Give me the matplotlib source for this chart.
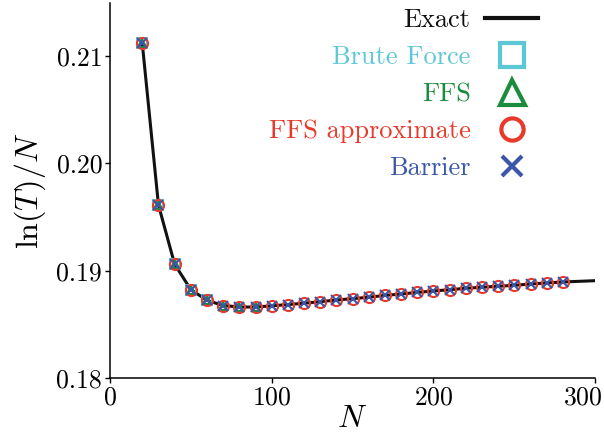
import matplotlib
matplotlib.use("Agg")
import matplotlib.pyplot as plt
from matplotlib.lines import Line2D
from matplotlib.ticker import FormatStrFormatter
from matplotlib.transforms import ScaledTranslation

plt.rcParams['font.family'] = 'serif'
plt.rcParams['font.serif'] = ['cmr10']
plt.rcParams['mathtext.fontset'] = 'cm'
plt.rcParams['axes.formatter.use_mathtext'] = True

# ---- data ----
N_exact = [20, 30, 40, 50, 60, 70, 80, 90, 100, 110, 120, 130, 140, 150, 160,
           170, 180, 190, 200, 210, 220, 230, 240, 250, 260, 270, 280, 290, 300]
y_exact = [0.21115, 0.19611, 0.19060, 0.18824, 0.18724, 0.18676, 0.18662,
           0.18662, 0.18673, 0.18685, 0.18697, 0.18712, 0.18727, 0.18740,
           0.18753, 0.18770, 0.18783, 0.18798, 0.18811, 0.18823, 0.18836,
           0.18846, 0.18855, 0.18864, 0.18876, 0.18886, 0.18895, 0.18901,
           0.18907]

N_pts = [20, 30, 40, 50, 60, 70, 80, 90, 100, 110, 120, 130, 140, 150, 160,
         170, 180, 190, 200, 210, 220, 230, 240, 250, 260, 270, 280]
y_pts = [0.21115, 0.19611, 0.19060, 0.18824, 0.18724, 0.18676, 0.18662,
         0.18662, 0.18673, 0.18685, 0.18697, 0.18712, 0.18727, 0.18740,
         0.18753, 0.18770, 0.18783, 0.18798, 0.18811, 0.18823, 0.18836,
         0.18846, 0.18855, 0.18864, 0.18876, 0.18886, 0.18895]

N_brute = [20, 30, 40, 50, 60]
y_brute = [0.21115, 0.19611, 0.19060, 0.18824, 0.18724]
N_ffs = [20, 30, 40, 50, 60, 70, 80, 90]
y_ffs = [0.21115, 0.19611, 0.19060, 0.18824, 0.18724, 0.18676, 0.18662, 0.18662]

labels = ["Exact", "Brute Force", "FFS", "FFS approximate", "Barrier"]
xticks = [0, 100, 200, 300]
yticks = [0.18, 0.19, 0.20, 0.21]

c_exact = "#111111"
c_brute = "#5cc8d6"
c_ffs = "#1a8c3c"
c_approx = "#e8392a"
c_barrier = "#3b56a8"

fig = plt.figure(figsize=(6.04, 4.37), dpi=100)
ax = fig.add_axes([0.182, 0.1346, 0.8035, 0.8585])

ax.plot(N_exact, y_exact, color=c_exact, lw=2.2, zorder=2)
ax.plot(N_brute, y_brute, ls='none', marker='s', ms=7.5, mfc='none',
        mec=c_brute, mew=1.5, zorder=3)
ax.plot(N_ffs, y_ffs, ls='none', marker='^', ms=6, mfc='none',
        mec=c_ffs, mew=1.5, zorder=4)
ax.plot(N_pts, y_pts, ls='none', marker='o', ms=8, mfc='none',
        mec=c_approx, mew=1.5, zorder=5)
ax.plot(N_pts, y_pts, ls='none', marker='x', ms=6.5,
        mec=c_barrier, mew=1.5, zorder=6)

ax.set_xlim(0, 300)
ax.set_ylim(0.18, 0.2149)
ax.set_xticks(xticks)
ax.set_yticks(yticks)
ax.yaxis.set_major_formatter(FormatStrFormatter('%.2f'))
for s in ['top', 'right']:
    ax.spines[s].set_visible(False)
for s in ['left', 'bottom']:
    ax.spines[s].set_linewidth(1.1)
ax.tick_params(direction='out', length=3.6, width=1.0, labelsize=18.5, pad=2)
ax.set_xlabel(r"$N$", fontsize=23, labelpad=-3)
ax.set_ylabel(r"$\ln(T)/N$", fontsize=23, labelpad=6)

# shift the last x tick label left so it stays inside the figure
fig.canvas.draw()
last = ax.get_xticklabels()[-1]
last.set_transform(last.get_transform() +
                   ScaledTranslation(-0.12, 0, fig.dpi_scale_trans))

handles = [
    Line2D([], [], color=c_exact, lw=3),
    Line2D([], [], ls='none', marker='s', ms=17, mfc='none', mec=c_brute, mew=3),
    Line2D([], [], ls='none', marker='^', ms=18, mfc='none', mec=c_ffs, mew=3),
    Line2D([], [], ls='none', marker='o', ms=16, mfc='none', mec=c_approx, mew=3),
    Line2D([], [], ls='none', marker='x', ms=15, mec=c_barrier, mew=3),
]
ax.legend(handles, labels, loc='upper right', bbox_to_anchor=(0.882, 0.985),
          markerfirst=False, frameon=False, fontsize=19,
          labelcolor=[c_exact, c_brute, c_ffs, c_approx, c_barrier],
          handlelength=2.0, handletextpad=0.55, labelspacing=0.5,
          borderpad=0, borderaxespad=0)

fig.savefig("out.png", dpi=100)
